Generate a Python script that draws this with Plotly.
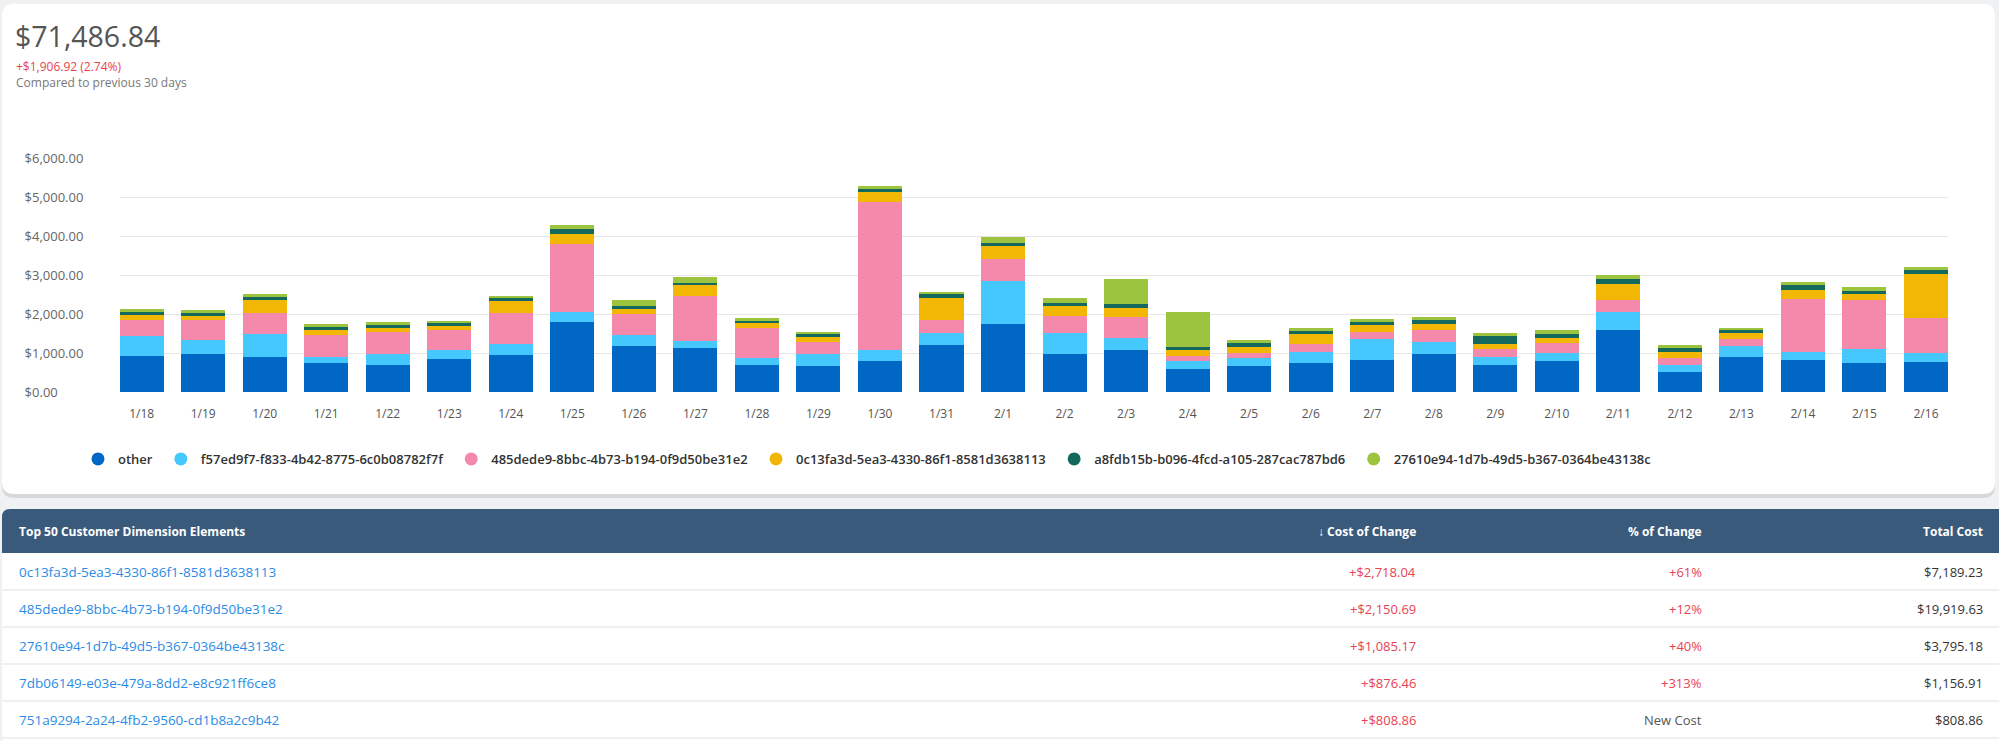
import plotly.graph_objects as go

W, H = 1999, 741

# ---------------- data ----------------
dates = ["1/18", "1/19", "1/20", "1/21", "1/22", "1/23", "1/24", "1/25", "1/26", "1/27",
         "1/28", "1/29", "1/30", "1/31", "2/1", "2/2", "2/3", "2/4", "2/5", "2/6",
         "2/7", "2/8", "2/9", "2/10", "2/11", "2/12", "2/13", "2/14", "2/15", "2/16"]

other = [923, 991, 897, 761, 709, 855, 966, 1803, 1188, 1128, 692, 684, 803, 1222, 1761,
         991, 1077, 598, 667, 761, 829, 991, 709, 812, 1607, 521, 915, 829, 761, 786]
f57ed9f7 = [521, 351, 607, 136, 265, 222, 265, 257, 282, 180, 180, 307, 282, 299, 1102,
            522, 308, 197, 205, 273, 530, 300, 197, 205, 461, 171, 282, 205, 350, 214]
d485dede9 = [411, 504, 522, 573, 564, 530, 795, 1735, 539, 1154, 769, 300, 3795, 334, 547,
             453, 555, 137, 145, 205, 197, 307, 197, 239, 300, 197, 162, 1351, 1265, 906]
d0c13fa3d = [136, 111, 342, 137, 120, 102, 316, 273, 136, 282, 128, 128, 257, 572, 342,
             248, 231, 145, 154, 257, 162, 163, 145, 146, 418, 145, 154, 239, 137, 1137]
a8fdb15b = [69, 86, 85, 77, 68, 69, 68, 111, 77, 68, 60, 68, 68, 86, 60,
            85, 85, 77, 94, 77, 94, 85, 188, 102, 111, 103, 77, 137, 94, 94]
d27610e94 = [77, 68, 60, 68, 69, 51, 69, 95, 137, 154, 68, 60, 69, 68, 179,
             120, 659, 914, 77, 77, 77, 94, 94, 103, 112, 85, 68, 68, 85, 68]

series_names = ["other",
                "f57ed9f7-f833-4b42-8775-6c0b08782f7f",
                "485dede9-8bbc-4b73-b194-0f9d50be31e2",
                "0c13fa3d-5ea3-4330-86f1-8581d3638113",
                "a8fdb15b-b096-4fcd-a105-287cac787bd6",
                "27610e94-1d7b-49d5-b367-0364be43138c"]
series_values = [other, f57ed9f7, d485dede9, d0c13fa3d, a8fdb15b, d27610e94]
series_colors = ["#0067c5", "#45c8fd", "#f589ab", "#f2b705", "#13695e", "#9cc43f"]

ytick_vals = [0, 1000, 2000, 3000, 4000, 5000, 6000]
ytick_text = ["$0.00", "$1,000.00", "$2,000.00", "$3,000.00", "$4,000.00", "$5,000.00", "$6,000.00"]

total_cost = "$71,486.84"
change_text = "+$1,906.92 (2.74%)"
compare_text = "Compared to previous 30 days"

table_header = ["Top 50 Customer Dimension Elements", "\u2193 Cost of Change", "% of Change", "Total Cost"]
table_names = ["0c13fa3d-5ea3-4330-86f1-8581d3638113",
               "485dede9-8bbc-4b73-b194-0f9d50be31e2",
               "27610e94-1d7b-49d5-b367-0364be43138c",
               "7db06149-e03e-479a-8dd2-e8c921ff6ce8",
               "751a9294-2a24-4fb2-9560-cd1b8a2c9b42"]
table_cost_change = ["+$2,718.04", "+$2,150.69", "+$1,085.17", "+$876.46", "+$808.86"]
table_pct_change = ["+61%", "+12%", "+40%", "+313%", "New Cost"]
table_total = ["$7,189.23", "$19,919.63", "$3,795.18", "$1,156.91", "$808.86"]

# ---------------- helpers ----------------
def px(x):
    return x / W


def py(y):
    return 1 - y / H


def rounded_rect(x0, y0, x1, y1, r, corners=(True, True, True, True)):
    # corners: top-left, top-right, bottom-right, bottom-left
    X0, X1 = px(x0), px(x1)
    Y0, Y1 = py(y0), py(y1)
    rx, ry = r / W, r / H
    tl, tr, br, bl = corners
    p = f"M {X0 + (rx if tl else 0)},{Y0} "
    if tr:
        p += f"L {X1 - rx},{Y0} Q {X1},{Y0} {X1},{Y0 - ry} "
    else:
        p += f"L {X1},{Y0} "
    if br:
        p += f"L {X1},{Y1 + ry} Q {X1},{Y1} {X1 - rx},{Y1} "
    else:
        p += f"L {X1},{Y1} "
    if bl:
        p += f"L {X0 + rx},{Y1} Q {X0},{Y1} {X0},{Y1 + ry} "
    else:
        p += f"L {X0},{Y1} "
    if tl:
        p += f"L {X0},{Y0 - ry} Q {X0},{Y0} {X0 + rx},{Y0} Z"
    else:
        p += f"L {X0},{Y0} Z"
    return p


FONT = "Open Sans"
NBSP = "\u00a0"

fig = go.Figure()

for name, vals, col in zip(series_names, series_values, series_colors):
    fig.add_trace(go.Bar(x=dates, y=vals, name=name, marker=dict(color=col, line=dict(width=0)),
                         showlegend=False, xaxis="x", yaxis="y",
                         hovertemplate="%{x}<br>" + name + ": $%{y:,.2f}<extra></extra>"))
    fig.add_trace(go.Scatter(x=[None], y=[None], mode="markers", name=name + NBSP,
                             marker=dict(color=col, size=13, symbol="circle"),
                             showlegend=True, xaxis="x", yaxis="y", hoverinfo="skip"))

# ---------------- page / card shapes ----------------
shapes = [
    dict(type="path", xref="paper", yref="paper", path=rounded_rect(2, 6, 1995, 498, 12),
         fillcolor="rgba(0,0,0,0.10)", line=dict(width=0), layer="below"),
    dict(type="path", xref="paper", yref="paper", path=rounded_rect(2, 4, 1995, 494, 12),
         fillcolor="white", line=dict(width=0), layer="below"),
]

annotations = [
    dict(text=total_cost, xref="paper", yref="paper", x=px(13), y=py(36), xanchor="left",
         yanchor="middle", showarrow=False, font=dict(family=FONT, size=28.5, color="#555555")),
    dict(text=change_text, xref="paper", yref="paper", x=px(14), y=py(67), xanchor="left",
         yanchor="middle", showarrow=False, font=dict(family=FONT, size=12, color="#e8434f")),
    dict(text=compare_text, xref="paper", yref="paper", x=px(14), y=py(82), xanchor="left",
         yanchor="middle", showarrow=False, font=dict(family=FONT, size=12, color="#777777")),
]

# ---------------- table (header + rows) ----------------
tbl_top, hdr_h, row_h = 509, 44, 37
tbl_left, tbl_right = 2, 1999
col_anchor = [(17, "left"), (1418, "right"), (1704, "right"), (1985, "right")]

shapes.append(dict(type="path", xref="paper", yref="paper",
                   path=rounded_rect(tbl_left, tbl_top, tbl_right, tbl_top + hdr_h, 8,
                                     corners=(True, False, False, False)),
                   fillcolor="#3a5a7c", line=dict(width=0), layer="below"))
shapes.append(dict(type="rect", xref="paper", yref="paper",
                   x0=px(tbl_left), x1=px(tbl_right), y0=py(H), y1=py(tbl_top + hdr_h),
                   fillcolor="white", line=dict(width=0), layer="below"))
for i in range(len(table_names)):
    yb = tbl_top + hdr_h + row_h * (i + 1)
    shapes.append(dict(type="line", xref="paper", yref="paper",
                       x0=px(tbl_left), x1=px(tbl_right), y0=py(yb), y1=py(yb),
                       line=dict(color="#ebebeb", width=1.5), layer="below"))

hdr_y = py(tbl_top + hdr_h / 2)
for (xa, al), h in zip(col_anchor, table_header):
    annotations.append(dict(text="<b>" + h + "</b>", xref="paper", yref="paper", x=px(xa), y=hdr_y,
                            xanchor=al, yanchor="middle", showarrow=False,
                            font=dict(family=FONT, size=12, color="white")))

columns = [table_names, table_cost_change, table_pct_change, table_total]
for ci, ((xa, al), col) in enumerate(zip(col_anchor, columns)):
    for ri, val in enumerate(col):
        if ci == 0:
            color, size = "#2a8be6", 13.5
        elif ci == 3:
            color, size = "#333333", 13
        elif val == "New Cost":
            color, size = "#555555", 13
        else:
            color, size = "#e8434f", 13
        yc = py(tbl_top + hdr_h + row_h * (ri + 0.5))
        annotations.append(dict(text=val, xref="paper", yref="paper", x=px(xa), y=yc,
                                xanchor=al, yanchor="middle", showarrow=False,
                                font=dict(family=FONT, size=size, color=color)))

bar_frac = 44 / 61.5
half = bar_frac / 2

fig.update_layout(
    width=W, height=H, autosize=False,
    margin=dict(l=0, r=0, t=0, b=0, pad=0, autoexpand=False),
    paper_bgcolor="#f0f1f3",
    plot_bgcolor="rgba(0,0,0,0)",
    barmode="stack",
    bargap=1 - bar_frac,
    font=dict(family=FONT),
    xaxis=dict(domain=[px(119.6), px(1948)], range=[-half, len(dates) - 1 + half],
               type="category", showgrid=False, zeroline=False, showline=False, automargin=False,
               ticks="outside", ticklen=10, tickcolor="rgba(0,0,0,0)",
               tickfont=dict(family=FONT, size=12, color="#555555"), fixedrange=True),
    yaxis=dict(domain=[py(392.3), py(157.3)], range=[0, 6020], automargin=False,
               tickvals=ytick_vals, ticktext=ytick_text,
               showgrid=True, gridcolor="#e6e6e6", gridwidth=1, zeroline=False, showline=False,
               ticklabelposition="inside", ticklabelstandoff=-98, ticklabeloverflow="allow",
               tickfont=dict(family=FONT, size=13, color="#666666"), fixedrange=True),
    legend=dict(orientation="h", x=px(78), xanchor="left", y=py(459), yanchor="middle",
                traceorder="normal", itemwidth=30,
                bgcolor="rgba(0,0,0,0)", font=dict(family=FONT, size=13, color="#333333", weight=600),
                itemclick=False, itemdoubleclick=False),
    shapes=shapes,
    annotations=annotations,
)

fig.write_html("out.html", config={"displayModeBar": False},
               post_script="document.body.style.margin='0';document.body.style.overflow='hidden';")
